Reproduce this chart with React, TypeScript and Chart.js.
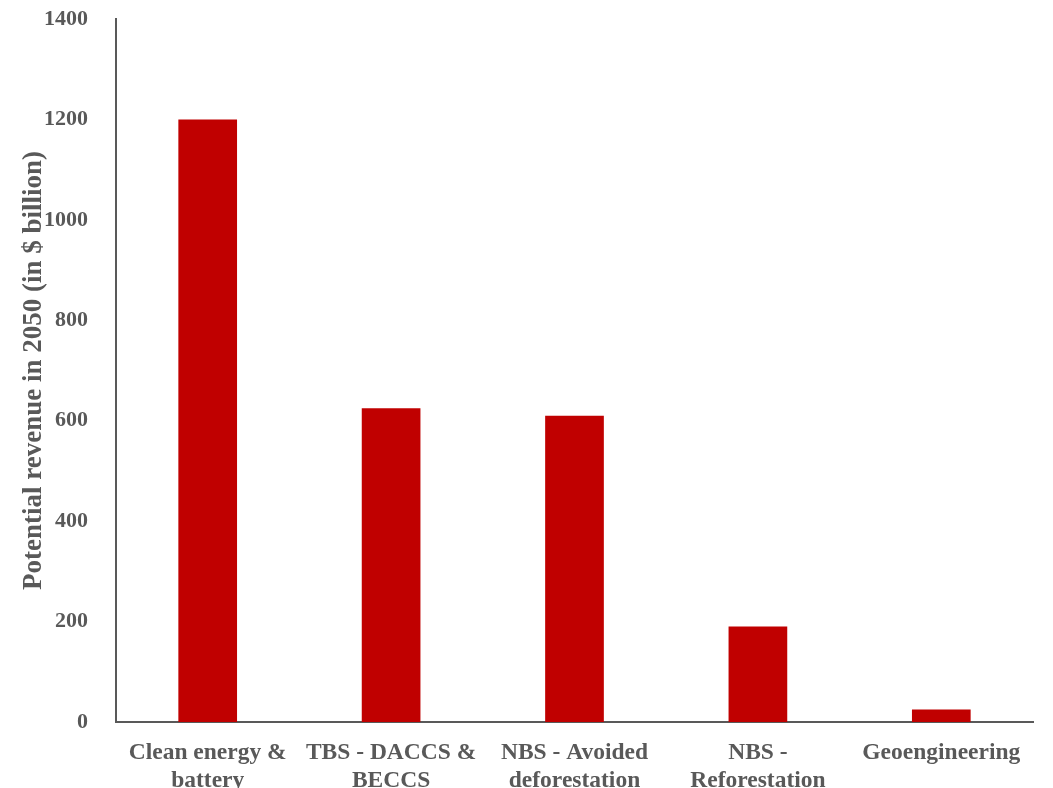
import React, { useEffect, useRef } from "react";
import { Chart, registerables } from "chart.js";

Chart.register(...registerables);

const categories: string[][] = [
  ["Clean energy &", "battery"],
  ["TBS - DACCS &", "BECCS"],
  ["NBS - Avoided", "deforestation"],
  ["NBS -", "Reforestation"],
  ["Geoengineering"],
];
const revenue: number[] = [1200, 625, 610, 190, 25];
const yTitle = "Potential revenue in 2050 (in $ billion)";

const GREY = "#595959";
const FONT = "'Liberation Serif', 'Times New Roman', serif";

export default function App() {
  const ref = useRef<HTMLCanvasElement | null>(null);
  useEffect(() => {
    if (!ref.current) return;
    const chart = new Chart(ref.current, {
      type: "bar",
      data: {
        labels: categories,
        datasets: [
          {
            data: revenue,
            backgroundColor: "#C00000",
            borderWidth: 0,
            barPercentage: 0.32,
            categoryPercentage: 1,
          },
        ],
      },
      options: {
        animation: false,
        responsive: false,
        maintainAspectRatio: false,
        layout: { padding: { top: 19, right: 20, left: 0, bottom: 0 } },
        plugins: { legend: { display: false }, tooltip: { enabled: false } },
        scales: {
          x: {
            grid: { display: false },
            border: { display: true, color: GREY, width: 2 },
            ticks: {
              color: GREY,
              font: { family: FONT, size: 23.5, weight: "bold", lineHeight: 1.2 },
              padding: 9,
              maxRotation: 0,
              autoSkip: false,
            },
            afterFit: (s: any) => {
              s.height = 66;
              s.paddingLeft = 0;
              s.paddingRight = 0;
            },
          },
          y: {
            min: 0,
            max: 1400,
            grid: { display: false },
            border: { display: true, color: GREY, width: 2 },
            ticks: {
              stepSize: 200,
              color: GREY,
              font: { family: FONT, size: 22, weight: "bold" },
              padding: 20,
              callback: (v: any) => String(v),
            },
            title: {
              display: true,
              text: yTitle,
              color: GREY,
              font: { family: FONT, size: 27, weight: "bold" },
              padding: { top: 18, bottom: 0 },
            },
            afterFit: (s: any) => {
              s.width = 116;
              s.paddingTop = 0;
              s.paddingBottom = 0;
            },
          },
        },
      },
    });
    return () => chart.destroy();
  }, []);
  return (
    <div style={{ position: "fixed", left: 0, top: 0, width: 1053, height: 788, background: "#fff" }}>
      <canvas ref={ref} width={1053} height={788} style={{ display: "block" }} />
    </div>
  );
}
